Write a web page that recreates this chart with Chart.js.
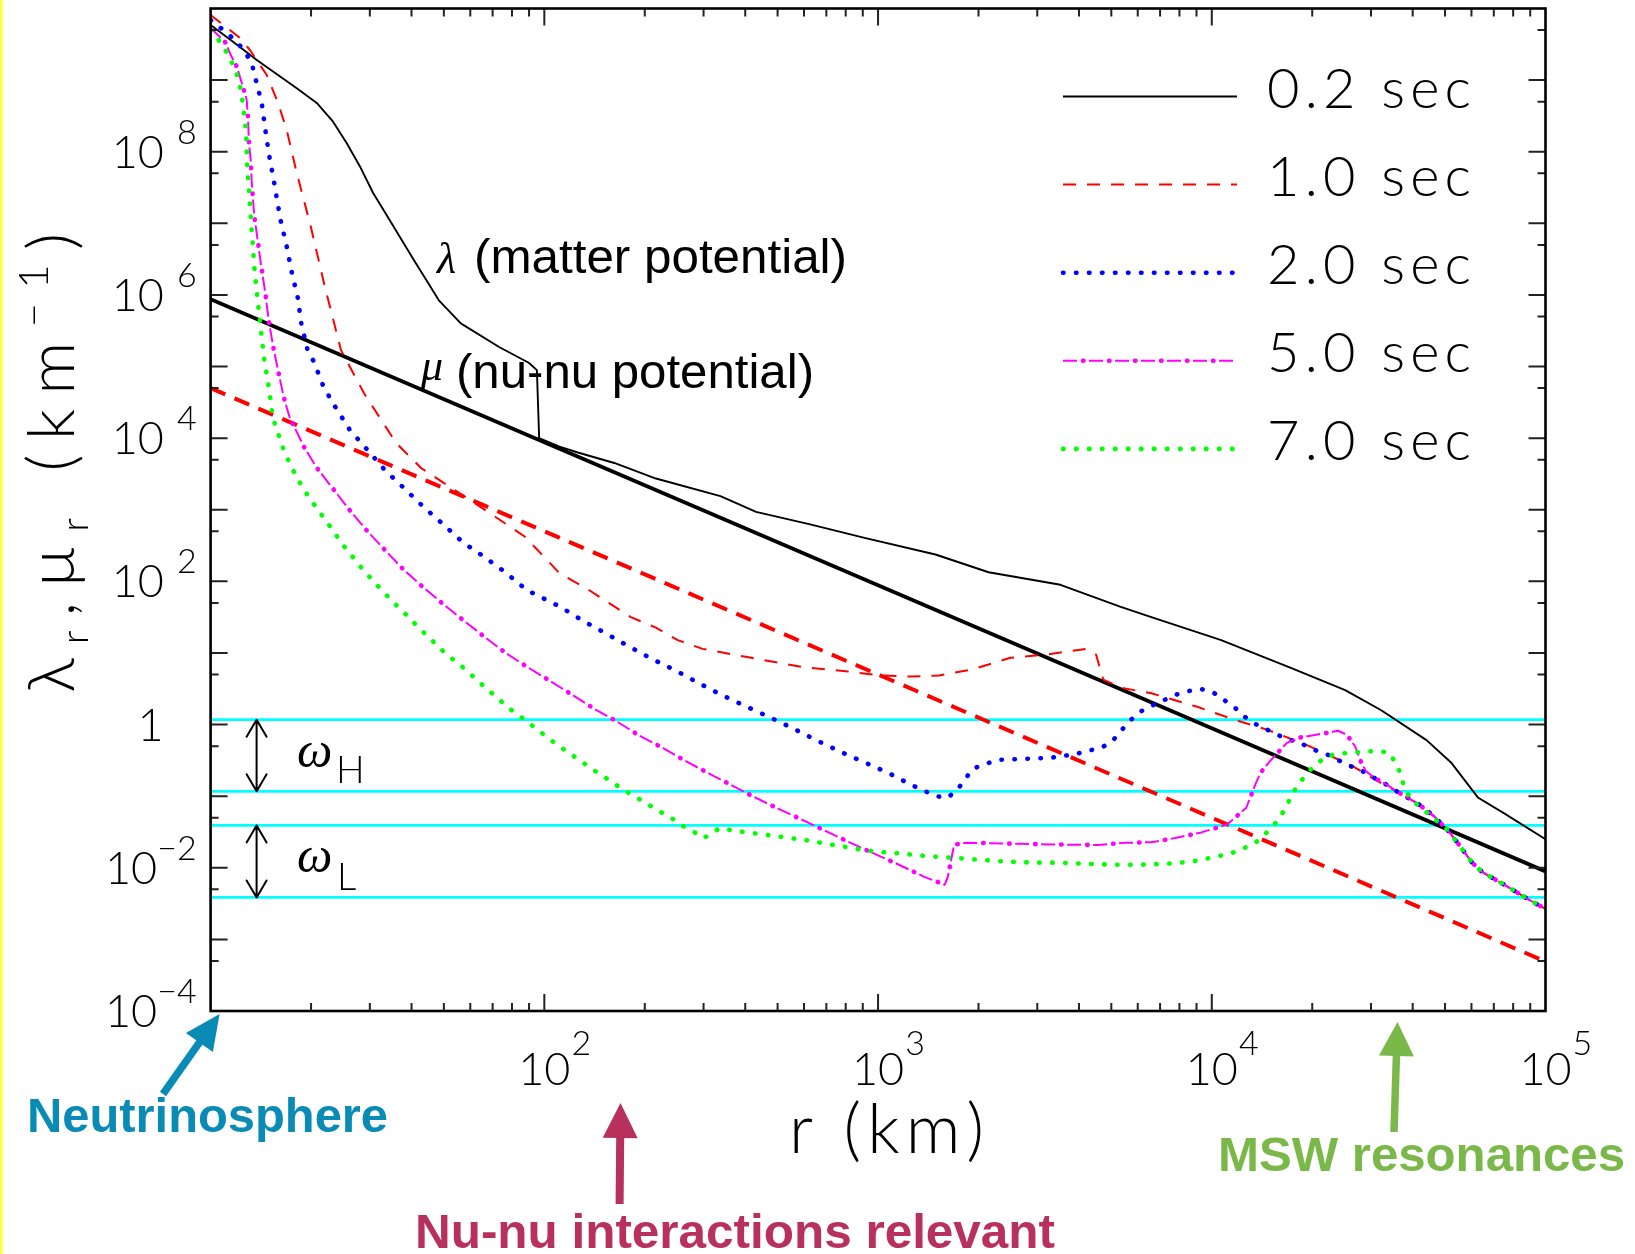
<!DOCTYPE html>
<html><head><meta charset="utf-8">
<script src="https://cdn.jsdelivr.net/npm/chart.js@4.4.0/dist/chart.umd.min.js"></script>
<style>
html,body{margin:0;padding:0;background:#fff;}
#wrap{position:relative;width:1635px;height:1254px;background:#fff;}
canvas{display:block;}
</style></head><body>
<div id="wrap"><canvas id="c" width="1635" height="1254" style="width:1635px;height:1254px"></canvas></div>
<script>
// ---------------- DATA (r in km, potentials in km^-1) ----------------
const xTickExps = [2, 3, 4, 5];
const yTickExps = [8, 6, 4, 2, 0, -2, -4];
const legendLabels = ['0.2 sec', '1.0 sec', '2.0 sec', '5.0 sec', '7.0 sec'];
const omegaBands = [1.17, 0.117, 0.039, 0.00385];

// mu (nu-nu potential), straight lines
const r_mu = [10, 100, 1000, 10000, 100000];
const mu02 = [8.7e5, 8.75e3, 88, 0.885, 0.0089];
const mu10 = [5.0e4, 500, 5.0, 0.05, 4.9e-4];

// lambda (matter potential), 0.2 sec
const r_lam02 = [10, 11.67, 13.75, 18.12, 20.8, 23.28, 25.59, 28.05, 30.69, 33.5, 40.6, 48.3, 56.2, 73.4, 89.8, 95, 96.5, 111, 126, 162, 216, 337, 431, 626, 911, 1486, 2144, 3520, 5310, 6590, 10670, 17400, 25100, 32100, 44000, 52300, 62700, 75000, 100000];
const lam02 = [5.88e9, 3.44e9, 1.91e9, 7.69e8, 4.79e8, 2.63e8, 1.31e8, 6.18e7, 2.65e7, 1.36e7, 3.1e6, 8.4e5, 4.0e5, 1.86e5, 1.13e5, 8.9e4, 1.0e4, 7.6e3, 6.3e3, 4.5e3, 2.73e3, 1.55e3, 935, 625, 405, 237, 134, 89.5, 44.3, 31.6, 15.1, 6.1, 3.03, 1.6, 0.607, 0.29, 0.096, 0.058, 0.025];

// lambda, 1.0 sec
const r_lam10 = [10, 12.25, 13.12, 14.73, 15.93, 16.91, 18.12, 19.95, 22.0, 24.6, 28.8, 36.0, 42.8, 62.2, 87.5, 111, 136, 181.6, 216, 251, 298, 401, 596, 800, 1021, 1250, 1523, 1898, 2495, 3186, 4188, 4500, 4730, 5385, 6590, 9040, 11550, 14650, 19670, 26400, 32100, 36200, 41900, 46300, 50800, 54650, 60400, 64900, 75500, 89100, 100000];
const lam10 = [8.1e9, 3.87e9, 2.63e9, 1.18e9, 4.79e8, 2.01e8, 5.05e7, 9.1e6, 1.3e6, 1.68e5, 4.27e4, 8.5e3, 3.8e3, 1.22e3, 420, 130, 75.7, 31.6, 22.6, 15.1, 11.4, 8.85, 6.34, 5.55, 4.85, 4.69, 4.85, 5.83, 8.57, 9.5, 11.4, 9.5, 4.24, 3.24, 2.74, 1.77, 1.19, 0.849, 0.497, 0.263, 0.153, 0.1135, 0.076, 0.0526, 0.034, 0.022, 0.01164, 0.0086, 0.00575, 0.0036, 0.00266];

// lambda, 2.0 sec
const r_lam20 = [10, 11.2, 12.0, 12.68, 13.28, 13.59, 13.88, 14.23, 14.56, 14.97, 15.49, 16.2, 16.9, 17.5, 18.25, 18.7, 19.5, 20.4, 21.8, 23.7, 26.2, 29.6, 33.3, 37.9, 43.4, 49.8, 56.9, 65.9, 76.4, 88.5, 111.4, 130.6, 151.8, 177.8, 209.7, 246.6, 289, 338.7, 401, 473, 558, 657, 775, 915, 1080, 1268, 1493, 1615, 1728, 1824, 1924, 2094, 2282, 2738, 3281, 3899, 4280, 4667, 5050, 5350, 5690, 6085, 6620, 7160, 7780, 8480, 9310, 10140, 10900, 11750, 12590, 13520, 14650, 15920, 17280, 18920, 20540, 22230, 24220, 26340, 28380, 30950, 33500, 36200, 41900, 46300, 50800, 54650, 60400, 64900, 75500, 89100, 100000];
const lam20 = [6.91e9, 4.55e9, 3.41e9, 2.47e9, 1.73e9, 1.105e9, 7.51e8, 4.79e8, 2.14e8, 9.0e7, 3.78e7, 1.11e7, 4.8e6, 2.08e6, 9.1e5, 4.0e5, 1.74e5, 1.16e5, 5.2e4, 2.67e4, 1.28e4, 6.75e3, 3.57e3, 2.02e3, 1.10e3, 625, 353, 221, 134, 75.7, 44.3, 28.1, 19.1, 12.6, 8.28, 5.73, 3.83, 2.61, 1.80, 1.27, 0.877, 0.597, 0.413, 0.294, 0.208, 0.141, 0.1004, 0.0945, 0.123, 0.173, 0.242, 0.281, 0.321, 0.332, 0.343, 0.386, 0.434, 0.472, 0.597, 0.821, 1.134, 1.50, 1.835, 2.17, 2.60, 2.93, 3.13, 2.78, 2.196, 1.71, 1.27, 1.017, 0.849, 0.703, 0.607, 0.5185, 0.434, 0.38, 0.31, 0.257, 0.222, 0.176, 0.1437, 0.1135, 0.076, 0.0526, 0.034, 0.022, 0.01164, 0.0086, 0.00575, 0.0036, 0.00266];

// lambda, 5.0 sec
const r_lam50 = [10, 11.05, 11.57, 12.0, 12.4, 12.83, 12.94, 13.03, 13.19, 13.28, 13.40, 13.53, 13.86, 14.19, 14.59, 14.93, 15.4, 15.96, 16.55, 17.22, 19.05, 20.83, 23.3, 26.04, 29.4, 33.27, 37.7, 43.1, 49.6, 57.0, 65.9, 76.0, 88.5, 102.6, 121.3, 141.2, 165.5, 192.4, 226, 264, 309.5, 362.6, 427.6, 503.6, 591.6, 827.6, 1155, 1371, 1585, 1619, 1690, 1837, 2680, 3758, 4564, 5483, 6590, 7780, 9310, 11110, 12680, 13530, 13980, 14860, 16790, 18300, 19950, 22230, 23890, 25430, 26920, 28080, 29010, 30950, 33500, 36200, 41900, 46300, 50800, 54650, 60400, 64900, 75500, 89100, 100000];
const lam50 = [5.34e9, 3.41e9, 2.10e9, 1.52e9, 9.11e8, 5.28e8, 3.05e8, 1.32e8, 7.66e7, 3.78e7, 2.12e7, 1.23e7, 5.5e6, 2.46e6, 1.06e6, 4.45e5, 1.89e5, 8.47e4, 3.79e4, 2.0e4, 7.56e3, 3.82e3, 1.95e3, 1.0e3, 511, 275, 149, 84.7, 48.9, 29.0, 17.0, 10.27, 6.45, 4.24, 2.6, 1.66, 1.095, 0.703, 0.4735, 0.3126, 0.2105, 0.1436, 0.0961, 0.0665, 0.0469, 0.02228, 0.01103, 0.00753, 0.0058, 0.00753, 0.021, 0.02244, 0.0216, 0.021, 0.0208, 0.0223, 0.02275, 0.026, 0.0312, 0.0402, 0.0687, 0.1486, 0.2105, 0.30, 0.556, 0.657, 0.703, 0.767, 0.82, 0.718, 0.49, 0.29, 0.222, 0.176, 0.1437, 0.1135, 0.076, 0.0526, 0.034, 0.022, 0.01164, 0.0086, 0.00575, 0.0036, 0.00266];

// lambda, 7.0 sec
const r_lam70 = [10, 10.31, 10.89, 11.36, 11.84, 12.17, 12.4, 12.51, 12.68, 12.77, 12.83, 12.86, 12.94, 13.03, 13.18, 13.37, 13.53, 13.78, 14.19, 14.49, 14.93, 15.28, 15.6, 16.07, 16.55, 17.21, 17.9, 18.75, 19.67, 20.7, 21.84, 23.13, 24.32, 25.65, 27.3, 28.8, 30.7, 32.65, 34.73, 36.94, 39.45, 41.98, 44.98, 47.86, 51.1, 55.04, 59.0, 63.2, 67.6, 72.3, 77.2, 83.4, 89.7, 96.2, 103.5, 111.4, 120, 128.6, 138.8, 150.7, 161.9, 174.8, 188.4, 203.2, 219.8, 237.6, 255.7, 277, 300.7, 335, 373, 440, 519.6, 617.5, 728.8, 863, 979, 1181, 1432, 1690, 2038, 2415, 2913, 3447, 4178, 5038, 6085, 7340, 8710, 10290, 11885, 13520, 14730, 15690, 16670, 17280, 18120, 19190, 20230, 22020, 23890, 26170, 28710, 31400, 33980, 35650, 36940, 37720, 39630, 42370, 45620, 50800, 54650, 60400, 64900, 75500, 89100, 100000];
const lam70 = [5.0e9, 4.27e9, 3.0e9, 2.10e9, 1.43e9, 9.41e8, 6.2e8, 4.21e8, 2.69e8, 1.83e8, 1.16e8, 6.96e7, 4.44e7, 3.02e7, 1.27e7, 5.38e6, 2.33e6, 9.95e5, 2.84e5, 1.23e5, 5.21e4, 2.28e4, 1.53e4, 1.04e4, 6.84e3, 4.58e3, 3.16e3, 2.16e3, 1.51e3, 1.09e3, 764, 536, 378, 270, 193, 140, 102, 74.2, 55.2, 41.4, 30.8, 22.6, 16.7, 12.6, 9.41, 7.25, 5.45, 4.10, 3.06, 2.37, 1.774, 1.37, 1.059, 0.821, 0.632, 0.49, 0.387, 0.31, 0.2406, 0.188, 0.149, 0.119, 0.0961, 0.0786, 0.0622, 0.0517, 0.03995, 0.0329, 0.026, 0.0356, 0.0329, 0.0297, 0.0269, 0.024, 0.021, 0.01836, 0.01683, 0.01573, 0.01442, 0.01377, 0.01288, 0.0122, 0.0118, 0.0118, 0.0114, 0.01104, 0.01104, 0.0114, 0.0122, 0.01422, 0.01683, 0.02236, 0.0322, 0.0445, 0.0687, 0.0994, 0.1446, 0.199, 0.266, 0.355, 0.3926, 0.403, 0.42, 0.427, 0.406, 0.2865, 0.194, 0.1316, 0.0892, 0.0687, 0.0517, 0.034, 0.022, 0.01164, 0.0086, 0.00575, 0.0036, 0.00266];

// ---------------- STYLE ----------------
const THIN = '"Lato", "DejaVu Sans", sans-serif';
const SANS = '"Liberation Sans", Arial, sans-serif';
const SERIF = '"Liberation Serif", "DejaVu Serif", serif';

function pts(rs, vs) { const n = Math.min(rs.length, vs.length); const a = []; for (let i = 0; i < n; i++) a.push({x: rs[i], y: vs[i]}); return a; }

const styles = {
  lam02: {borderColor: '#000000', borderWidth: 1.9, borderDash: [], borderCapStyle: 'butt'},
  mu02: {borderColor: '#000000', borderWidth: 3.8, borderDash: [], borderCapStyle: 'butt'},
  lam10: {borderColor: '#FF0000', borderWidth: 2, borderDash: [13, 11], borderCapStyle: 'butt'},
  mu10: {borderColor: '#FF0000', borderWidth: 4, borderDash: [16, 10], borderCapStyle: 'butt'},
  lam20: {borderColor: '#0000FF', borderWidth: 4.6, borderDash: [0.5, 12.5], borderCapStyle: 'round'},
  lam50: {borderColor: '#FF00FF', borderWidth: 2, borderDash: [14, 12], borderCapStyle: 'butt'},
  lam50dots: {borderColor: '#FF00FF', borderWidth: 4.6, borderDash: [0.5, 25.5], borderDashOffset: 6, borderCapStyle: 'round'},
  lam70: {borderColor: '#00FF00', borderWidth: 4.6, borderDash: [0.5, 12.5], borderCapStyle: 'round'}
};

function ds(label, data, st, order) {
  return Object.assign({label, data, pointRadius: 0, pointHoverRadius: 0, tension: 0, fill: false,
    borderJoinStyle: 'round', order}, st);
}

const datasets = [];
omegaBands.forEach((v, i) => datasets.push(ds('omega' + i, [{x: 10, y: v}, {x: 1e5, y: v}],
  {borderColor: '#00FFFF', borderWidth: 2.8, borderDash: []}, 30)));
datasets.push(ds('lambda 0.2 sec', pts(r_lam02, lam02), styles.lam02, 20));
datasets.push(ds('mu 0.2 sec', pts(r_mu, mu02), styles.mu02, 19));
datasets.push(ds('lambda 1.0 sec', pts(r_lam10, lam10), styles.lam10, 18));
datasets.push(ds('mu 1.0 sec', pts(r_mu, mu10), styles.mu10, 17));
datasets.push(ds('lambda 2.0 sec', pts(r_lam20, lam20), styles.lam20, 16));
datasets.push(ds('lambda 5.0 sec', pts(r_lam50, lam50), styles.lam50, 15));
datasets.push(ds('lambda 5.0 sec dots', pts(r_lam50, lam50), styles.lam50dots, 14));
datasets.push(ds('lambda 7.0 sec', pts(r_lam70, lam70), styles.lam70, 13));

const legendStyles = [[styles.lam02], [styles.lam10], [styles.lam20], [styles.lam50, styles.lam50dots], [styles.lam70]];

// ---------------- helpers ----------------
function charsWidth(ctx, text) { let w = 0; for (const ch of text) w += ctx.measureText(ch).width; return w; }
function drawSpaced(ctx, text, x, y, sp) { let cx = x; for (const ch of text) { ctx.fillText(ch, cx, y); cx += ctx.measureText(ch).width + sp; } }
function fitSpaced(ctx, text, x, y, target) {
  const n = [...text].length; const sp = n > 1 ? (target - charsWidth(ctx, text)) / (n - 1) : 0;
  drawSpaced(ctx, text, x, y, sp);
}
function fitScaled(ctx, text, x, y, target) {
  const w = ctx.measureText(text).width; ctx.save(); ctx.translate(x, y); ctx.scale(target / w, 1);
  ctx.textAlign = 'left'; ctx.fillText(text, 0, 0); ctx.restore();
}
function strokeStyled(ctx, st, x1, y1, x2, y2) {
  ctx.save(); ctx.strokeStyle = st.borderColor; ctx.lineWidth = st.borderWidth; ctx.lineCap = st.borderCapStyle || 'butt';
  ctx.setLineDash(st.borderDash || []); ctx.lineDashOffset = st.borderDashOffset || 0;
  ctx.beginPath(); ctx.moveTo(x1, y1); ctx.lineTo(x2, y2); ctx.stroke(); ctx.restore();
}
function dblArrow(ctx, x, y1, y2) {
  ctx.save(); ctx.strokeStyle = '#000'; ctx.lineWidth = 2; ctx.lineCap = 'round'; ctx.lineJoin = 'round';
  ctx.beginPath(); ctx.moveTo(x, y1); ctx.lineTo(x, y2);
  ctx.moveTo(x - 10, y1 + 17); ctx.lineTo(x, y1); ctx.lineTo(x + 10, y1 + 17);
  ctx.moveTo(x - 10, y2 - 17); ctx.lineTo(x, y2); ctx.lineTo(x + 10, y2 - 17);
  ctx.stroke(); ctx.restore();
}
function fatArrow(ctx, color, tx, ty, hx, hy, shaftW, headL, headHW) {
  const dx = hx - tx, dy = hy - ty, L = Math.hypot(dx, dy), ux = dx / L, uy = dy / L, px = -uy, py = ux;
  const bx = hx - ux * headL, by = hy - uy * headL;
  ctx.save(); ctx.strokeStyle = color; ctx.fillStyle = color; ctx.lineWidth = shaftW; ctx.lineCap = 'butt';
  ctx.beginPath(); ctx.moveTo(tx, ty); ctx.lineTo(bx + ux * 2, by + uy * 2); ctx.stroke();
  ctx.beginPath(); ctx.moveTo(hx, hy); ctx.lineTo(bx + px * headHW, by + py * headHW); ctx.lineTo(bx - px * headHW, by - py * headHW);
  ctx.closePath(); ctx.fill(); ctx.restore();
}

const decoPlugin = {
  id: 'deco',
  afterDatasetsDraw(chart) {
    const ctx = chart.ctx; const {left, right, top, bottom} = chart.chartArea; const xs = chart.scales.x, ys = chart.scales.y;
    ctx.save();
    ctx.strokeStyle = '#222'; ctx.lineWidth = 2; ctx.setLineDash([]);
    for (let e = 1; e <= 5; e++) for (let m = 1; m <= 9; m++) {
      const v = m * Math.pow(10, e); if (v > 1e5 + 1) break;
      const px = xs.getPixelForValue(v); const len = m === 1 ? 17 : 8;
      if (px < left + 1 || px > right - 1) continue;
      ctx.beginPath(); ctx.moveTo(px, bottom); ctx.lineTo(px, bottom - len); ctx.moveTo(px, top); ctx.lineTo(px, top + len); ctx.stroke();
    }
    for (let e = -4; e <= 10; e++) for (const m of [1, 5]) {
      const v = m * Math.pow(10, e); const py = ys.getPixelForValue(v);
      if (py < top + 1 || py > bottom - 1) continue;
      const len = m === 1 ? 17 : 8;
      ctx.beginPath(); ctx.moveTo(left, py); ctx.lineTo(left + len, py); ctx.moveTo(right, py); ctx.lineTo(right - len, py); ctx.stroke();
    }
    ctx.strokeStyle = '#000'; ctx.lineWidth = 2.6;
    ctx.strokeRect(left, top, right - left, bottom - top);
    ctx.restore();
  },
  afterDraw(chart) {
    const ctx = chart.ctx; const {left, right, top, bottom} = chart.chartArea; const xs = chart.scales.x, ys = chart.scales.y;
    ctx.save();
    ctx.fillStyle = '#FFFF33'; ctx.fillRect(0, 0, 2.6, 1254);
    ctx.fillStyle = '#000'; ctx.textBaseline = 'alphabetic';
    // y tick labels
    for (const e of yTickExps) {
      const py = ys.getPixelForValue(Math.pow(10, e));
      if (e === 0) { ctx.font = `300 45px ${THIN}`; ctx.textAlign = 'center'; ctx.fillText('1', left - 60, py + 16); continue; }
      const expStr = e < 0 ? '\u2212' + (-e) : String(e);
      ctx.font = `300 34px ${THIN}`; const we = ctx.measureText(expStr).width;
      const expLeft = left - 14 - we;
      ctx.textAlign = 'left'; ctx.fillText(expStr, expLeft, py - 8);
      ctx.font = `300 45px ${THIN}`; ctx.textAlign = 'right';
      ctx.fillText('10', expLeft - (e > 0 ? 13 : 0), py + 16);
    }
    // x tick labels
    for (const e of xTickExps) {
      const px = xs.getPixelForValue(Math.pow(10, e));
      ctx.font = `300 45px ${THIN}`; const wb = ctx.measureText('10').width;
      ctx.textAlign = 'center'; ctx.fillText('10', px, bottom + 74);
      ctx.font = `300 34px ${THIN}`; ctx.textAlign = 'left'; ctx.fillText(String(e), px + wb / 2 + 1, bottom + 44);
    }
    // x title
    ctx.font = `300 68px ${THIN}`; ctx.textAlign = 'left';
    fitSpaced(ctx, 'r (km)', 789, 1153, 195);
    // y title (rotated)
    ctx.save(); ctx.translate(74, 463); ctx.rotate(-Math.PI / 2);
    const big = `300 66px ${THIN}`, sub = `300 38px ${THIN}`, sup = `300 42px ${THIN}`;
    const items = [
      {t: '\u03BB', f: big, dy: 0}, {t: 'r', f: sub, dy: 14},
      {t: ',', f: big, dy: 0}, {t: '\u00B5', f: big, dy: 0},
      {t: 'r', f: sub, dy: 14}, {t: ' ', f: big, dy: 0},
      {t: '(', f: big, dy: 0}, {t: 'k', f: big, dy: 0}, {t: 'm', f: big, dy: 0},
      {t: '\u2212', f: sup, dy: -26}, {t: '1', f: sup, dy: -26},
      {t: ')', f: big, dy: 0}];
    let tw = 0; for (const it of items) { ctx.font = it.f; it.w = ctx.measureText(it.t).width; tw += it.w; }
    const target = 460; const gap = (target - tw) / (items.length - 1);
    let cx = -target / 2; ctx.textAlign = 'left';
    for (const it of items) { ctx.font = it.f; ctx.fillText(it.t, cx, it.dy); cx += it.w + gap; }
    ctx.restore();
    // legend
    for (let i = 0; i < legendLabels.length; i++) {
      const yy = 96.5 + i * 88.1;
      for (const st of legendStyles[i]) strokeStyled(ctx, st, 1063, yy, 1237, yy);
      ctx.fillStyle = '#000'; ctx.font = `300 56px ${THIN}`; ctx.textAlign = 'left';
      fitSpaced(ctx, legendLabels[i], 1267, yy + 11, 204);
    }
    // lambda / mu annotations
    ctx.fillStyle = '#000';
    ctx.font = `italic 44px ${SERIF}`; ctx.textAlign = 'left';
    ctx.fillText('\u03BB', 437, 273);
    ctx.fillText('\u03BC', 421, 380);
    ctx.font = `48px ${SANS}`;
    fitScaled(ctx, '(matter potential)', 474, 273, 373);
    fitScaled(ctx, '(nu-nu potential)', 456, 388, 358);
    // omega bands
    const ax = left + 46;
    dblArrow(ctx, ax, ys.getPixelForValue(omegaBands[0]), ys.getPixelForValue(omegaBands[1]));
    dblArrow(ctx, ax, ys.getPixelForValue(omegaBands[2]), ys.getPixelForValue(omegaBands[3]));
    ctx.fillStyle = '#000';
    ctx.font = `italic 50px ${SERIF}`; ctx.textAlign = 'left';
    ctx.fillText('\u03C9', 297, 767); ctx.fillText('\u03C9', 297, 872);
    ctx.font = `300 38px ${THIN}`;
    ctx.fillText('H', 336, 783); ctx.fillText('L', 337, 890);
    // bottom callouts
    ctx.font = `bold 48px ${SANS}`;
    ctx.fillStyle = '#0A8BB5'; fitScaled(ctx, 'Neutrinosphere', 27, 1132, 361);
    fatArrow(ctx, '#0A8BB5', 163, 1094, 219.6, 1014, 7.5, 35, 16.5);
    ctx.fillStyle = '#B8305C'; ctx.font = `bold 48px ${SANS}`; fitScaled(ctx, 'Nu-nu interactions relevant', 415, 1248, 640);
    fatArrow(ctx, '#B8305C', 619.6, 1204, 620.5, 1103, 8, 35, 17.5);
    ctx.fillStyle = '#7BB84A'; ctx.font = `bold 48px ${SANS}`; fitScaled(ctx, 'MSW resonances', 1218, 1171, 407);
    fatArrow(ctx, '#7BB84A', 1394, 1132, 1397.5, 1022, 7.5, 34, 17.5);
    ctx.restore();
  }
};

new Chart(document.getElementById('c'), {
  type: 'line',
  data: {datasets},
  options: {
    responsive: false, animation: false, devicePixelRatio: 1,
    layout: {padding: {left: 210.6, right: 89.5, top: 8.5, bottom: 243}},
    scales: {
      x: {type: 'logarithmic', min: 10, max: 1e5, display: false},
      y: {type: 'logarithmic', min: 1e-4, max: 1e10, display: false}
    },
    plugins: {legend: {display: false}, tooltip: {enabled: false}},
    elements: {line: {tension: 0}}
  },
  plugins: [decoPlugin]
});
</script>
</body></html>
